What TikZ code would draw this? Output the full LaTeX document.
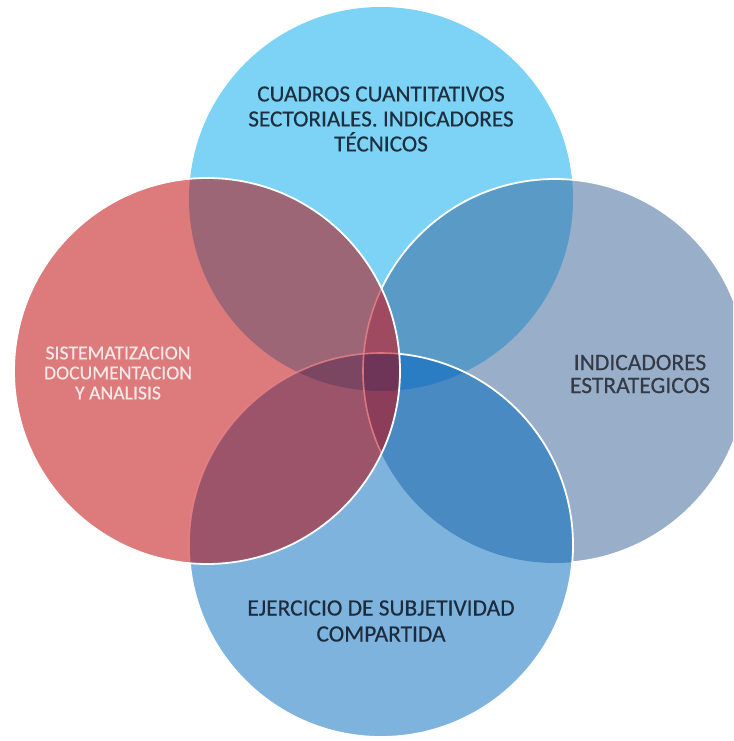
\documentclass[tikz,border=0pt]{standalone}
\usepackage{fontspec}
\setmainfont{Carlito}[FakeBold=0.35]
\begin{document}
\begin{tikzpicture}[x=1pt,y=-1pt,
  label/.style={align=center,inner sep=0pt},
  ring/.style={draw=white,line width=1.8pt},
  faintring/.style={draw={rgb,255:red,232;green,128;blue,134},line width=1.6pt}]
% circle geometry
\def\Rad{192pt}
\coordinate (ct) at (381,199);
\coordinate (cl) at (207,371);
\coordinate (cr) at (555,371);
\coordinate (cb) at (381,545);
\def\Top{(ct) circle[radius=\Rad]}
\def\Lft{(cl) circle[radius=193pt]}
\def\Rgt{(cr) circle[radius=\Rad]}
\def\Bot{(cb) circle[radius=\Rad]}
% colours of single circles and their overlaps
\definecolor{cT}{HTML}{7DD3F5}
\definecolor{cL}{HTML}{DD7B7C}
\definecolor{cR}{HTML}{98AEC9}
\definecolor{cB}{HTML}{7EB3DE}
\definecolor{cTR}{HTML}{5A9AC6}
\definecolor{cRB}{HTML}{4A8AC3}
\definecolor{cTRB}{HTML}{2B7DC3}
\definecolor{cTL}{HTML}{9C6676}
\definecolor{cLB}{HTML}{9B5469}
\definecolor{cTBL}{HTML}{7B4662}
\definecolor{cTLR}{HTML}{A04A62}
\definecolor{cLRB}{HTML}{8B3D5A}
\definecolor{cAll}{HTML}{6E3558}
\useasboundingbox (0,0) rectangle (733,741);
\clip (0,0) rectangle (733,741);
% layer 1: top circle
\fill[cT] \Top;
% layer 2: right circle
\fill[cR] \Rgt;
\begin{scope}\clip \Rgt; \fill[cTR] \Top; \end{scope}
\path[ring] \Rgt;
% layer 3: bottom circle
\fill[cB] \Bot;
\begin{scope}
  \clip \Bot; \fill[cRB] \Rgt;
  \clip \Top; \fill[cTRB] \Rgt;
\end{scope}
\path[ring] \Bot;
% layer 4: left circle
\fill[cL] \Lft;
\begin{scope}
  \clip \Lft;
  \fill[cTL] \Top;
  \fill[cLB] \Bot;
  \begin{scope}\clip \Top; \fill[cTBL] \Bot; \end{scope}
  \begin{scope}
    \clip \Rgt;
    \fill[cTLR] \Top;
    \fill[cLRB] \Bot;
    \clip \Top; \fill[cAll] \Bot;
  \end{scope}
  \path[faintring,opacity=0.85] \Rgt;
  \path[faintring,opacity=0.85] \Bot;
\end{scope}
\path[ring] \Lft;
% labels
\node[label,text={rgb,255:red,30;green,48;blue,64},font=\fontsize{23.2}{25}\selectfont] (ttop) at (381,119)
  {CUADROS CUANTITATIVOS\\SECTORIALES. INDICADORES\\TÉCNICOS};
\node[label,text={rgb,255:red,248;green,232;blue,232},font=\fontsize{19.7}{20}\selectfont] (tleft) at (118,373)
  {SISTEMATIZACION\\DOCUMENTACION\\Y ANALISIS};
\node[label,text={rgb,255:red,52;green,59;blue,70},font=\fontsize{23.5}{23}\selectfont] (tright) at (640,374)
  {INDICADORES\\ESTRATEGICOS};
\node[label,text={rgb,255:red,28;green,44;blue,60},font=\fontsize{23.4}{26}\selectfont] (tbot) at (381,621)
  {EJERCICIO DE SUBJETIVIDAD\\COMPARTIDA};
\end{tikzpicture}
\end{document}
